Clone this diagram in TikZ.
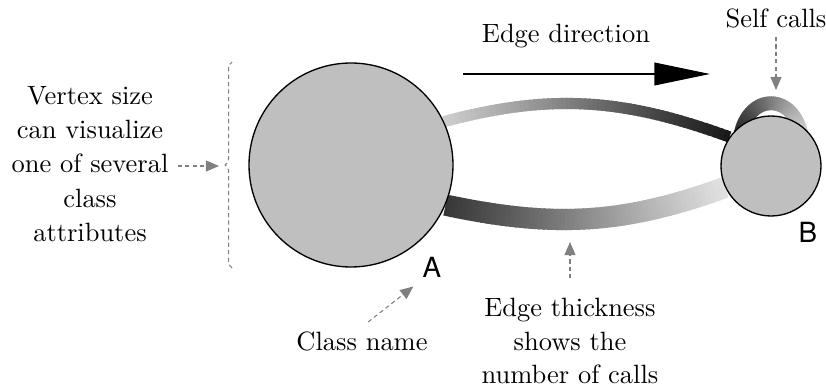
\documentclass[tikz,border=0pt]{standalone}
\usepackage{fontspec}
\usepackage{tikz}
\usetikzlibrary{arrows.meta,backgrounds,decorations.pathreplacing}
\newfontfamily\lblfont{TeX Gyre Heros}

\begin{document}
\begin{tikzpicture}[x=0.378pt,y=0.378pt,
	vtx/.style={circle,draw,fill=lightgray,inner sep=0pt,line width=0.5pt},
	hint/.style={gray,dash pattern=on 1.6pt off 1.2pt,line width=0.4pt,-{Triangle[length=5pt,width=4.2pt]}},
	lbl/.style={font=\lblfont\fontsize{10.5}{12}\selectfont},
	note/.style={align=center,font=\linespread{1.05}\selectfont}]
	\newcommand\px{0.378pt}
	\newcommand\nseg{60}

	\useasboundingbox (0,0) rectangle (826,388);

	\node[vtx,minimum size=204*\px] (A) at (351,223) {};
	\node[vtx,minimum size=100*\px] (B) at (771,222) {};
	\node[lbl] (la) at (432,121) {A};
	\node[lbl] (lb) at (808,156) {B};
	\coordinate (sl) at (739,238);
	\coordinate (sr) at (803,238);

	% edges: light at the caller, dark at the callee
	\begin{scope}[on background layer]
	\foreach \i in {0,...,59}{
		\pgfmathsetmacro\ta{\i/\nseg}
		\pgfmathsetmacro\tb{min(1,(\i+1.6)/\nseg)}
		\pgfmathsetmacro\up{20+70*\i/(\nseg-1)}
		\pgfmathsetmacro\lo{78-66*\i/(\nseg-1)}
		\pgfmathsetmacro\lp{92-82*\i/(\nseg-1)}
		\path (A.25) to[out=15,in=160] coordinate[pos=\ta] (s) coordinate[pos=\tb] (e) (B.145);
		\draw[line width=4.2pt,black!\up] (s) -- (e);
		\path (A.337) to[out=-12,in=200] coordinate[pos=\ta] (s) coordinate[pos=\tb] (e) (B.205);
		\draw[line width=8pt,black!\lo] (s) -- (e);
		\path (sl) to[out=90,in=90,looseness=2.5] coordinate[pos=\ta] (s) coordinate[pos=\tb] (e) (sr);
		\draw[line width=5.2pt,black!\lp] (s) -- (e);
	}
	\end{scope}

	% direction
	\node (dir) at (566,352) {Edge direction};
	\coordinate (d0) at (463,314);
	\coordinate (d1) at (710,314);
	\draw[line width=0.5pt,-{Triangle[length=21pt,width=8.6pt]}] (d0) -- (d1);

	% self loop note
	\node (self) at (776,370) {Self calls};
	\coordinate (st) at (776,298);
	\draw[hint] (self.south) -- (st);

	% vertex size note
	\node[note,font=\linespread{1.08}\selectfont] (vsz) at (90,224) {Vertex size\\can visualize\\one of several\\class\\attributes};
	\draw[gray,dash pattern=on 1.6pt off 1.2pt,line width=0.4pt,decorate,decoration={brace,amplitude=2.6pt}] (232,120) -- (232,326);
	\coordinate (brc) at (219,222);
	\draw[hint] (vsz.east |- brc) -- (brc);

	% class name note
	\node (cls) at (362,47) {Class name};
	\draw[hint] ([xshift=2.3pt]cls.north) -- (la.south west);

	% thickness note
	\node[note] (thk) at (570,47) {Edge thickness\\shows the\\number of calls};
	\coordinate (tt) at (570,146);
	\draw[hint,shorten <=4pt] (thk.north) -- (tt);
\end{tikzpicture}
\end{document}
